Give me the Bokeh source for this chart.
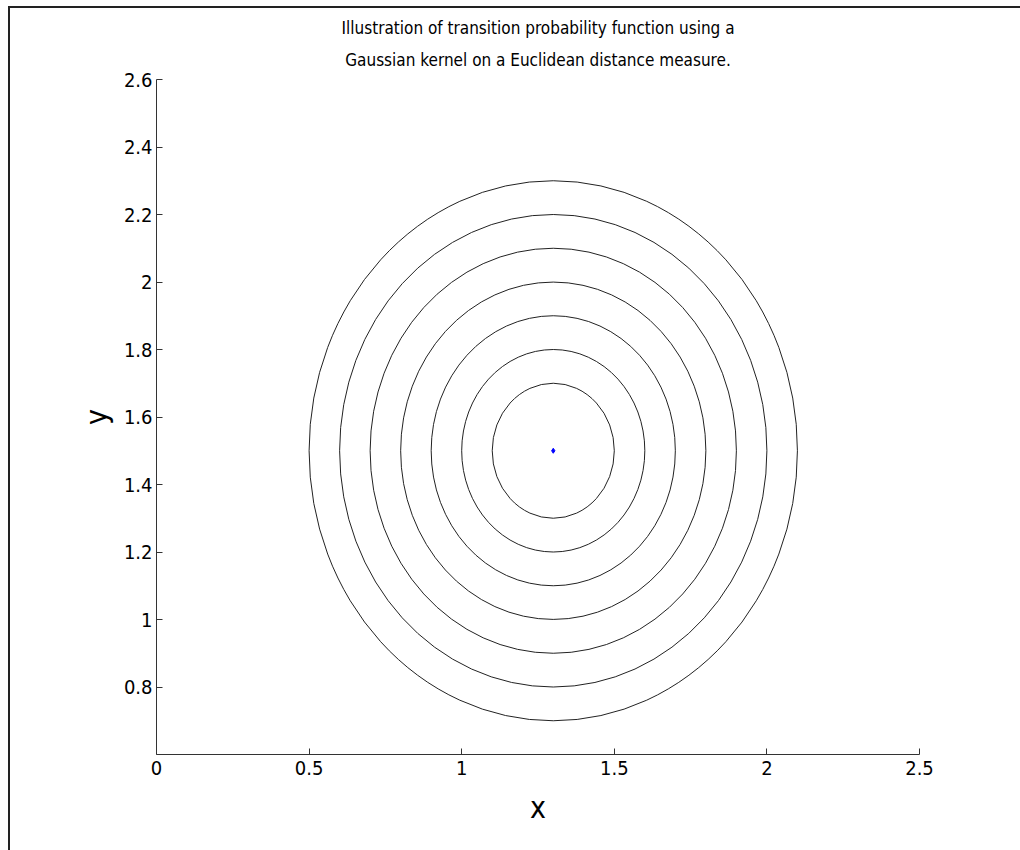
from bokeh.plotting import figure
from bokeh.models import FixedTicker, Title
from bokeh.embed import file_html
from bokeh.resources import INLINE

# data
center_x = [1.3]
center_y = [1.5]
radii = [0.2, 0.3, 0.4, 0.5, 0.6, 0.7, 0.8]
x_ticks = [0, 0.5, 1, 1.5, 2, 2.5]
y_ticks = [0.8, 1.0, 1.2, 1.4, 1.6, 1.8, 2.0, 2.2, 2.4, 2.6]
x_tick_labels = ["0", "0.5", "1", "1.5", "2", "2.5"]
y_tick_labels = ["0.8", "1", "1.2", "1.4", "1.6", "1.8", "2", "2.2", "2.4", "2.6"]
title_lines = ["Illustration of transition probability function using a",
               "Gaussian kernel on a Euclidean distance measure."]

FONT = "DejaVu Sans Condensed"

p = figure(output_backend="svg", toolbar_location=None,
           frame_width=763, frame_height=675,
           x_range=(0, 2.5), y_range=(0.6, 2.6),
           min_border_left=146, min_border_right=102,
           min_border_top=71, min_border_bottom=96,
           margin=(6, 0, 0, 8))
p.styles = {"border-left": "2px solid #222222", "border-top": "2px solid #222222"}
p.background_fill_color = "white"
p.border_fill_color = "white"
p.outline_line_color = None
p.grid.visible = False

# lower line first (closest to the frame)
p.add_layout(Title(text=title_lines[1], align="center", text_font=FONT,
                   text_font_size="17px", text_font_style="normal",
                   text_color="black", standoff=20), "above")
p.add_layout(Title(text=title_lines[0], align="center", text_font=FONT,
                   text_font_size="17px", text_font_style="normal",
                   text_color="black", standoff=0), "above")

n = len(radii)
p.ellipse(x=center_x * n, y=center_y * n,
          width=[2 * r for r in radii], height=[2 * r for r in radii],
          fill_color=None, line_color="#222222", line_width=1)
p.scatter(x=center_x, y=center_y, size=5, color="blue", marker="diamond")

for ax, ticks, labels in ((p.xaxis[0], x_ticks, x_tick_labels), (p.yaxis[0], y_ticks, y_tick_labels)):
    ax.ticker = FixedTicker(ticks=ticks)
    ax.major_label_overrides = {t: l for t, l in zip(ticks, labels)}
    ax.major_tick_in = 6
    ax.major_tick_out = 0
    ax.minor_tick_in = 0
    ax.minor_tick_out = 0
    ax.axis_line_color = "#333333"
    ax.major_tick_line_color = "#333333"
    ax.major_label_text_font = FONT
    ax.major_label_text_font_size = "20px"
    ax.major_label_text_color = "black"
    ax.axis_label_text_font = FONT
    ax.axis_label_text_font_size = "30px"
    ax.axis_label_text_font_style = "normal"
    ax.axis_label_text_color = "black"

p.xaxis.axis_label = "x"
p.yaxis.axis_label = "y"
p.xaxis.major_label_standoff = 6
p.xaxis.axis_label_standoff = 12
p.yaxis.major_label_standoff = 4
p.yaxis.axis_label_standoff = 7

open("out.html", "w").write(file_html(p, INLINE))
